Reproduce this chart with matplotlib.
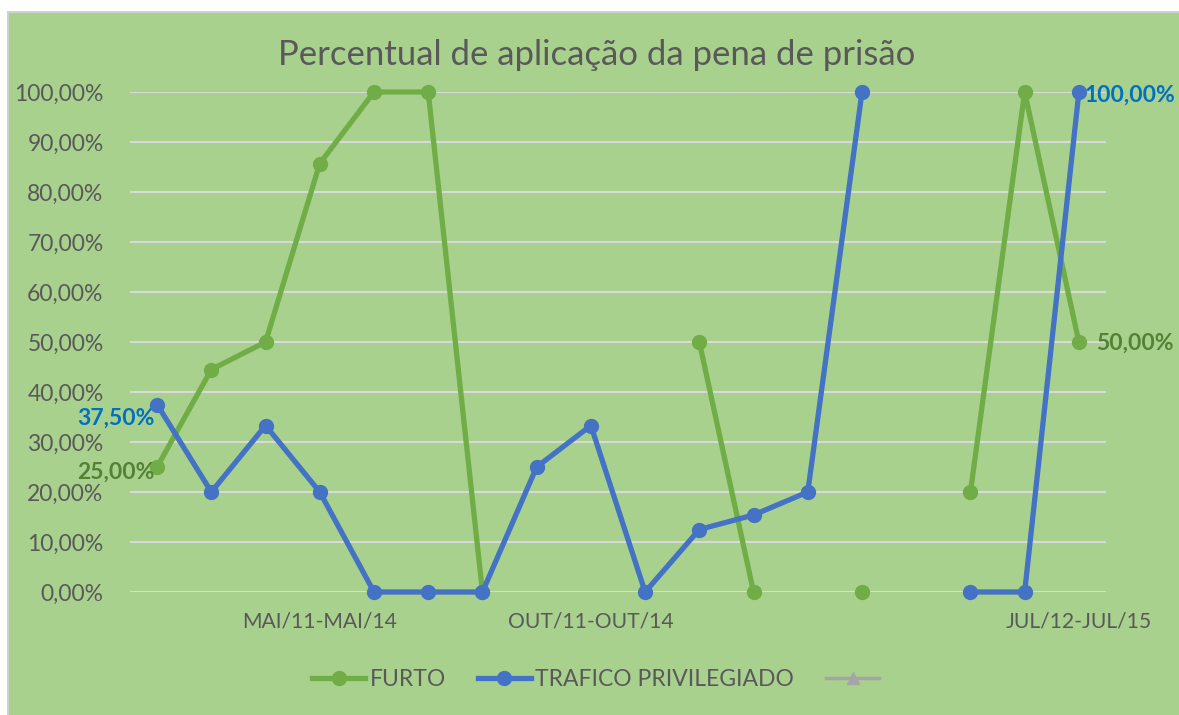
import numpy as np
import matplotlib.pyplot as plt
from matplotlib.lines import Line2D
from matplotlib.patches import Rectangle

plt.rcParams['font.family'] = ['Lato', 'DejaVu Sans']

# Data (nan = no value for that period)
tick_labels = ['', '', '', 'MAI/11-MAI/14', '', '', '', '', 'OUT/11-OUT/14',
               '', '', '', '', '', '', '', '', 'JUL/12-JUL/15']
furto = [0.25, 0.445, 0.50, 0.857, 1.0, 1.0, 0.0, np.nan, np.nan, np.nan,
         0.50, 0.0, np.nan, 0.0, np.nan, 0.20, 1.0, 0.50]
trafico = [0.375, 0.20, 0.333, 0.20, 0.0, 0.0, 0.0, 0.25, 0.333, 0.0,
           0.125, 0.154, 0.20, 1.0, np.nan, 0.0, 0.0, 1.0]

bg = '#A9D18E'
green = '#70AD47'
blue = '#4472C4'
text_gray = '#595959'

fig = plt.figure(figsize=(11.79, 7.15), dpi=100)
fig.patch.set_facecolor('white')

# Chart area background with thin border on left/top
fig.patches.append(Rectangle((8 / 1179, -0.1), 1.1, 1.1 - 12 / 715,
                             transform=fig.transFigure, facecolor=bg,
                             edgecolor='#D0D0D0', linewidth=1.5, zorder=-5))

ax = fig.add_axes([130 / 1179, 1 - 592 / 715, 976 / 1179, 500 / 715])
ax.set_facecolor('none')
ax.set_zorder(2)

x = np.arange(len(tick_labels))
ax.plot(x, furto, color=green, lw=3.8, marker='o', ms=10, zorder=3, clip_on=False)
ax.plot(x, trafico, color=blue, lw=3.8, marker='o', ms=10, zorder=4, clip_on=False)

ax.set_xlim(-0.5, len(x) - 0.5)
ax.set_ylim(0, 1.0)
ax.set_yticks(np.arange(0, 1.01, 0.1))
ax.set_yticklabels([f'{v:.2f}%'.replace('.', ',') for v in np.arange(0, 101, 10)])
ax.set_xticks(x)
ax.set_xticklabels(tick_labels)
ax.tick_params(axis='both', length=0, colors=text_gray)
ax.tick_params(axis='y', pad=19, labelsize=16.5)
ax.tick_params(axis='x', pad=14, labelsize=15.2)
ax.grid(axis='y', color='#D9D9D9', lw=1.5, zorder=1)
ax.set_axisbelow(True)
for s in ax.spines.values():
    s.set_visible(False)

# Data labels on first and last points
lbl = dict(fontsize=16.5, fontweight='bold', textcoords='offset points')
ax.annotate('37,50%', (x[0], trafico[0]), xytext=(-2, -10), ha='right',
            va='center', color='#0070C0', **lbl)
ax.annotate('25,00%', (x[0], furto[0]), xytext=(-2, -4), ha='right',
            va='center', color='#548235', **lbl)
ax.annotate('100,00%', (x[-1], trafico[-1]), xytext=(4, -2), ha='left',
            va='center', color='#0070C0', **lbl)
ax.annotate('50,00%', (x[-1], furto[-1]), xytext=(12, -1), ha='left',
            va='center', color='#548235', **lbl)

fig.text(597 / 1179, 1 - 55 / 715, 'Percentual de aplicação da pena de prisão',
         ha='center', va='center', fontsize=25, color=text_gray)

handles = [
    Line2D([], [], color=green, lw=3.8, marker='o', ms=10),
    Line2D([], [], color=blue, lw=3.8, marker='o', ms=10),
    Line2D([], [], color='#A5A5A5', lw=2.5, marker='^', ms=8),
]
fig.legend(handles, ['FURTO', 'TRAFICO PRIVILEGIADO', ''], loc='center',
           bbox_to_anchor=(598 / 1179, 1 - 680 / 715), ncol=3, frameon=False,
           fontsize=16.5, labelcolor=text_gray, handlelength=2.3,
           handletextpad=0.2, columnspacing=1.4)

fig.savefig('out.png', dpi=100, facecolor=fig.get_facecolor())
